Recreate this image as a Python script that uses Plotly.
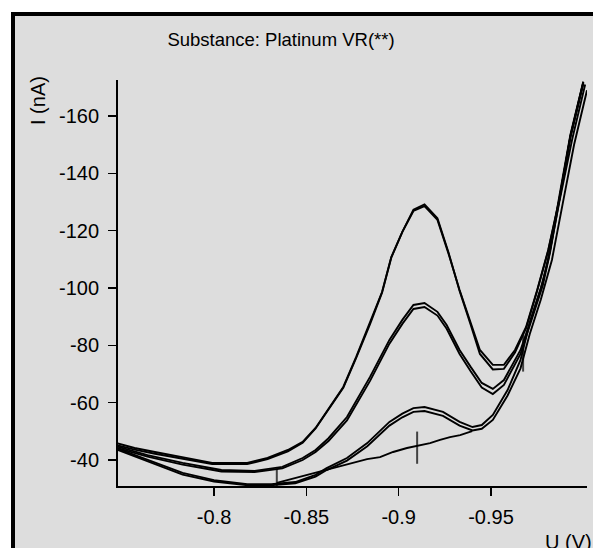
import plotly.graph_objects as go

# ---- data ----
a_x = [-0.747, -0.757, -0.768, -0.783, -0.799, -0.818, -0.829, -0.840, -0.848, -0.855, -0.862,
       -0.870, -0.877, -0.8845, -0.891, -0.896, -0.902, -0.908, -0.914, -0.921, -0.927, -0.933,
       -0.939, -0.944, -0.951, -0.957, -0.963, -0.969, -0.975, -0.981, -0.987, -0.993, -1.000]
a1_y = [-45.9, -44.2, -42.8, -41.0, -39.0, -39.0, -40.7, -43.5, -46.3, -51.2, -58.0,
        -65.5, -76.0, -87.8, -98.6, -110.8, -119.6, -126.9, -128.6, -123.8, -112.0, -99.3,
        -88.0, -78.4, -73.2, -73.2, -78.4, -86.4, -99.3, -113.3, -131.0, -153.0, -172.0]
a2_y = [-45.2, -43.6, -42.2, -40.5, -38.6, -38.6, -40.3, -43.0, -46.0, -51.0, -57.6,
        -65.2, -75.6, -87.4, -98.4, -110.6, -119.6, -127.3, -129.2, -124.4, -112.4, -99.0,
        -87.2, -77.0, -71.6, -71.8, -77.5, -86.0, -99.0, -113.0, -130.6, -152.6, -171.6]

b_x = [-0.747, -0.764, -0.783, -0.804, -0.822, -0.837, -0.848, -0.855, -0.862, -0.872, -0.8845,
       -0.895, -0.902, -0.908, -0.914, -0.921, -0.926, -0.933, -0.939, -0.945, -0.951, -0.957,
       -0.966, -0.971, -0.978, -0.982, -0.987, -0.993, -1.000]
b1_y = [-44.8, -41.7, -39.0, -36.5, -36.2, -37.6, -40.7, -43.5, -47.6, -55.0, -69.0,
        -81.9, -88.9, -94.1, -94.8, -91.7, -87.1, -78.4, -72.5, -66.9, -64.8, -67.9,
        -78.4, -87.8, -101.8, -113.3, -132.0, -153.5, -172.0]
b2_y = [-44.3, -41.2, -38.4, -36.0, -35.8, -37.1, -40.0, -42.8, -46.6, -53.8, -67.6,
        -80.6, -87.5, -92.7, -93.4, -90.4, -85.8, -77.0, -71.0, -65.3, -63.0, -66.2,
        -77.0, -86.6, -100.8, -112.5, -131.2, -152.8, -171.4]

c1_x = [-0.747, -0.764, -0.783, -0.800, -0.818, -0.831, -0.844, -0.855, -0.861, -0.872, -0.883,
        -0.895, -0.902, -0.908, -0.914, -0.924, -0.933, -0.940, -0.945, -0.951, -0.959, -0.966,
        -0.971, -0.977, -0.981, -0.987, -0.994, -1.001]
c1_y = [-44.2, -40.0, -35.5, -33.0, -31.6, -31.6, -32.3, -34.8, -37.2, -40.7, -45.9,
        -53.3, -56.2, -58.1, -58.5, -56.8, -53.3, -51.5, -52.2, -55.7, -64.4, -74.9,
        -88.0, -100.0, -109.8, -130.0, -152.0, -171.0]
c2_x = [-0.747, -0.764, -0.783, -0.800, -0.818, -0.831, -0.844, -0.855, -0.861, -0.872, -0.883,
        -0.895, -0.902, -0.908, -0.914, -0.924, -0.933, -0.940, -0.945, -0.951, -0.959, -0.966,
        -0.971, -0.977, -0.983, -0.989, -0.995, -1.002]
c2_y = [-43.7, -39.5, -34.9, -32.5, -31.2, -31.2, -31.9, -34.2, -36.5, -39.8, -44.8,
        -52.0, -54.9, -56.8, -57.1, -55.4, -52.0, -50.3, -50.9, -54.0, -62.5, -72.0,
        -84.0, -96.0, -109.8, -130.0, -150.0, -169.0]

base_x = [-0.834, -0.840, -0.8466, -0.8558, -0.8645, -0.8753, -0.8829, -0.8899, -0.897,
          -0.9045, -0.910, -0.917, -0.9224, -0.9278, -0.9333, -0.9398]
base_y = [-32.0, -33.0, -34.1, -35.8, -37.2, -39.0, -40.3, -41.0, -42.8,
          -44.2, -44.9, -45.9, -47.0, -48.0, -48.7, -50.1]

mark_x = [-0.834, -0.910, -0.9674]
mark_y = [-33.7, -44.3, -77.2]
mark_len = [14, 23, 26]

x_ticks = [-0.8, -0.85, -0.9, -0.95]
x_labels = ["-0.8", "-0.85", "-0.9", "-0.95"]
y_ticks = [-160, -140, -120, -100, -80, -60, -40]
y_labels = ["-160", "-140", "-120", "-100", "-80", "-60", "-40"]

FONT = "Liberation Sans, Arial, sans-serif"

fig = go.Figure()
for xs, ys in [(a_x, a1_y), (a_x, a2_y), (b_x, b1_y), (b_x, b2_y),
               (c1_x, c1_y), (c2_x, c2_y), (base_x, base_y)]:
    fig.add_trace(go.Scatter(x=xs, y=ys, mode="lines",
                             line=dict(color="black", width=1.9),
                             showlegend=False, hoverinfo="skip"))
fig.add_trace(go.Scatter(x=mark_x, y=mark_y, mode="markers",
                         marker=dict(symbol="line-ns", size=mark_len,
                                     line=dict(color="black", width=2)),
                         showlegend=False, hoverinfo="skip"))

L, R, T, B = 118, 6, 80, 62
W, H = 593, 548
pw, ph = W - L - R, H - T - B

def px_x(p):
    return (p - L) / pw

def px_y(p):
    return 1 - (p - T) / ph

fig.update_layout(
    width=W, height=H,
    margin=dict(l=L, r=R, t=T, b=B, pad=0),
    paper_bgcolor="white",
    plot_bgcolor="#dddddd",
    font=dict(family=FONT, size=20, color="black"),
    title=dict(text="Substance: Platinum VR(**)", x=281 / W, xanchor="center",
               y=1 - 40 / H, yanchor="middle", font=dict(size=18.5, family=FONT)),
    shapes=[dict(type="rect", xref="paper", yref="paper", layer="below",
                 x0=px_x(13), x1=1.2, y0=-0.3, y1=px_y(14),
                 fillcolor="#dddddd", line=dict(color="black", width=4))],
    annotations=[
        dict(text="I (nA)", xref="paper", yref="paper", x=px_x(38), y=px_y(101),
             textangle=-90, showarrow=False, xanchor="center", yanchor="middle",
             font=dict(size=20, family=FONT)),
        dict(text="U (V)", xref="paper", yref="paper", x=px_x(543), y=px_y(542),
             showarrow=False, xanchor="left", yanchor="middle",
             font=dict(size=20, family=FONT)),
    ],
)
fig.update_xaxes(range=[-0.748, -1.002], autorange=False, tickvals=x_ticks, ticktext=x_labels,
                 ticks="outside", ticklen=8, tickwidth=1.5, tickcolor="black",
                 showline=True, linecolor="black", linewidth=2, showgrid=False,
                 zeroline=False, tickfont=dict(size=20, family=FONT), ticklabelstandoff=4)
fig.update_yaxes(range=[-30.93, -172.6], autorange=False, tickvals=y_ticks, ticktext=y_labels,
                 ticks="outside", ticklen=8, tickwidth=1.5, tickcolor="black",
                 showline=True, linecolor="black", linewidth=2, showgrid=False,
                 zeroline=False, tickfont=dict(size=20, family=FONT), ticklabelstandoff=5)

fig.write_html("out.html", config={"displayModeBar": False, "staticPlot": True},
               post_script="document.body.style.margin='0';document.body.style.overflow='hidden';")
